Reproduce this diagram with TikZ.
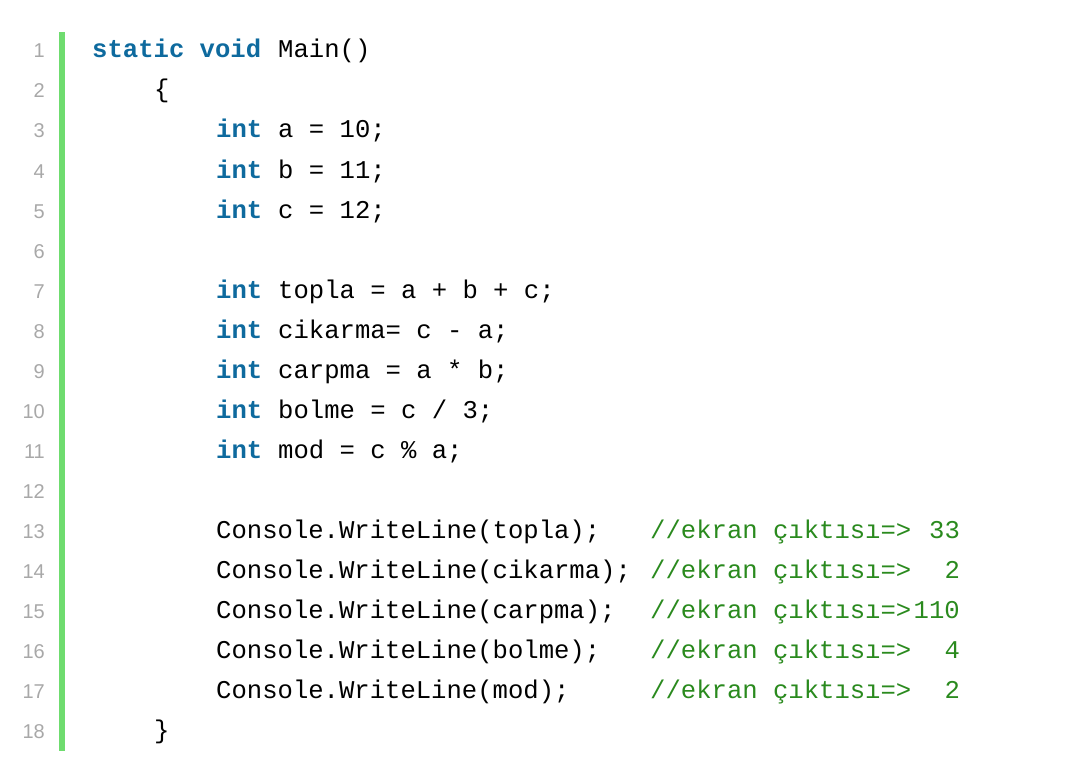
\documentclass[tikz,border=0pt]{standalone}
\usepackage{fontspec}
\setmainfont{Liberation Sans}
\newfontfamily\codefont{Liberation Mono}
\definecolor{kw}{HTML}{0E6A9E}
\definecolor{cm}{HTML}{2A8A1E}
\definecolor{ln}{HTML}{A8A8A8}
\definecolor{bar}{HTML}{6FDC6F}
\tikzset{
  code/.style={anchor=base west,inner sep=0pt,font=\codefont\fontsize{25.6}{28}\selectfont,text=black},
  kwd/.style={code,text=kw,font=\codefont\bfseries\fontsize{25.6}{28}\selectfont},
  cmt/.style={code,text=cm},
  lnum/.style={anchor=base east,inner sep=0pt,font=\fontsize{20}{24}\selectfont,text=ln}
}
\newcommand{\cx}[1]{92+#1*15.5}
\newcommand{\cy}[1]{-(58+(#1-1)*40)}
\begin{document}
\begin{tikzpicture}[x=1pt,y=1pt]
\useasboundingbox (0,0) rectangle (1073,-765);
\fill[bar] (59,-32) rectangle (65,-751);
\foreach \i in {1,...,18}{\node[lnum] (n\i) at (45,{\cy{\i}}) {\i};}
\node[kwd] (k1) at ({\cx{0}},{\cy{1}}) {static void};
\node[code] (t1) at ({\cx{12}},{\cy{1}}) {Main()};
\node[code] (t2) at ({\cx{4}},{\cy{2}}) {\{};
\foreach \r/\t in {3/{a = 10;},4/{b = 11;},5/{c = 12;},7/{topla = a + b + c;},8/{cikarma= c - a;},9/{carpma = a * b;},10/{bolme = c / 3;},11/{mod = c \% a;}}{
  \node[kwd] (k\r) at ({\cx{8}},{\cy{\r}}) {int};
  \node[code] (t\r) at ({\cx{12}},{\cy{\r}}) {\t};
}
\foreach \r/\t in {13/topla,14/cikarma,15/carpma,16/bolme,17/mod}{
  \node[code] (t\r) at ({\cx{8}},{\cy{\r}}) {Console.WriteLine(\t);};
}
\foreach \r/\t in {13/{ 33},14/{  2},15/{110},16/{  4},17/{  2}}{
  \node[cmt] (c\r) at ({\cx{36}},{\cy{\r}}) {//ekran çıktısı=>};
  \node[cmt] (v\r) at ({\cx{53}},{\cy{\r}}) {\phantom{0}};
}
\node[cmt] (w13) at ({\cx{54}},{\cy{13}}) {33};
\node[cmt] (w14) at ({\cx{55}},{\cy{14}}) {2};
\node[cmt] (w15) at ({\cx{53}},{\cy{15}}) {110};
\node[cmt] (w16) at ({\cx{55}},{\cy{16}}) {4};
\node[cmt] (w17) at ({\cx{55}},{\cy{17}}) {2};
\node[code] (t18) at ({\cx{4}},{\cy{18}}) {\}};
\end{tikzpicture}
\end{document}
